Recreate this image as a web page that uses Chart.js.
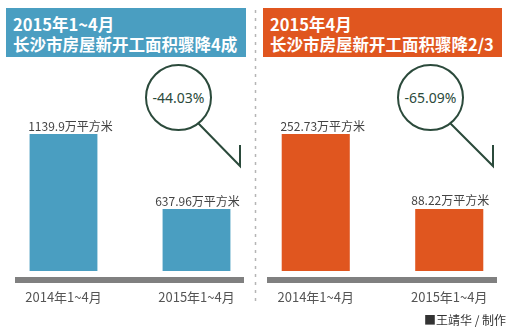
<!DOCTYPE html>
<html>
<head>
<meta charset="utf-8">
<script src="https://cdn.jsdelivr.net/npm/chart.js@4.4.0/dist/chart.umd.min.js"></script>
<style>
  body { margin: 0; background: #fff; font-family: "Noto Sans CJK SC", "Noto Sans", sans-serif; }
  #wrap { position: relative; width: 524px; height: 333px; overflow: hidden; background: #fff; }
  .title { position: absolute; top: 8px; height: 49px; color: #fff; font-weight: bold; font-size: 16.5px; line-height: 20px; padding: 6px 0 0 7px; box-sizing: border-box; }
  #titleL { left: 6px; width: 240px; background: #4a9ec1; }
  #titleR { left: 263px; width: 239px; background: #e0561f; }
  .base { position: absolute; top: 277px; height: 6px; background: #808080; }
  canvas { position: absolute; }
  #credit { position: absolute; left: 424px; top: 311px; font-size: 12px; color: #333; }
</style>
</head>
<body>
<div id="wrap">
  <div class="title" id="titleL">2015年1~4月<br>长沙市房屋新开工面积骤降4成</div>
  <div class="title" id="titleR">2015年4月<br>长沙市房屋新开工面积骤降2/3</div>
  <svg width="524" height="333" style="position:absolute;left:0;top:0">
    <line x1="255.5" y1="10" x2="255.5" y2="304" stroke="#b5b5b5" stroke-width="1.5" stroke-dasharray="3,5"/>
    <g fill="none" stroke="#2b4a3b" stroke-width="2">
      <circle cx="178.5" cy="97.5" r="32.5"/>
      <polyline points="198,123 240,166 240,145"/>
      <circle cx="430.5" cy="97.5" r="32.5"/>
      <polyline points="450,123 493,166 493,145"/>
    </g>
    <g font-size="14" fill="#2b4a3b" text-anchor="middle" font-family="Noto Sans, sans-serif">
      <text x="178.5" y="103">-44.03%</text>
      <text x="430.5" y="103">-65.09%</text>
    </g>
  </svg>
  <div class="base" style="left:15px;width:229px"></div>
  <div class="base" style="left:267px;width:230px"></div>
  <canvas id="chartL" style="left:-3px;top:60px" width="266" height="245"></canvas>
  <canvas id="chartR" style="left:249px;top:60px" width="267" height="245"></canvas>
  <div id="credit">■王靖华 / 制作</div>
</div>
<script>
// data
const categoriesL = ['2014年1~4月', '2015年1~4月'];
const valuesL = [1139.9, 637.96];
const categoriesR = ['2014年1~4月', '2015年1~4月'];
const valuesR = [252.73, 88.22];
const unit = '万平方米';

// value labels above bars, category labels under the baseline
const barLabels = {
    id: 'barLabels',
    afterDatasetsDraw(chart) {
        const ctx = chart.ctx;
        const meta = chart.getDatasetMeta(0);
        const area = chart.chartArea;
        ctx.save();
        ctx.textAlign = 'center';
        meta.data.forEach((bar, i) => {
            const v = chart.data.datasets[0].data[i];
            ctx.font = '12px "Noto Sans CJK SC", sans-serif';
            ctx.fillStyle = '#444';
            ctx.textBaseline = 'bottom';
            ctx.fillText(v + unit, bar.x + (i === 0 ? 7 : 1), bar.y - 2);
            ctx.font = '13px "Noto Sans CJK SC", sans-serif';
            ctx.fillStyle = '#555';
            ctx.textBaseline = 'middle';
            ctx.fillText(chart.data.labels[i], bar.x, area.bottom + 26);
        });
        ctx.restore();
    }
};

function makeChart(id, labels, values, color, yMin, yMax) {
    return new Chart(document.getElementById(id), {
        type: 'bar',
        data: {
            labels: labels,
            datasets: [{
                data: values,
                base: yMin,
                backgroundColor: color,
                barPercentage: 0.51,
                categoryPercentage: 1
            }]
        },
        options: {
            responsive: false,
            animation: false,
            layout: { padding: { left: 0, right: 0, top: 0, bottom: 34 } },
            plugins: { legend: { display: false }, tooltip: { enabled: false } },
            scales: {
                x: { display: false },
                y: { display: false, min: yMin, max: yMax }
            }
        },
        plugins: [barLabels]
    });
}

makeChart('chartL', categoriesL, valuesL, '#4a9ec1', 223, 1635);
makeChart('chartR', categoriesR, valuesR, '#e0561f', -48, 415);
</script>
</body>
</html>
